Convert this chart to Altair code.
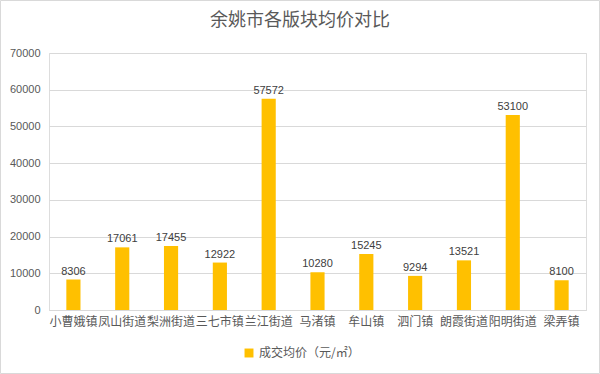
import altair as alt
import pandas as pd

categories = ["小曹娥镇", "凤山街道", "梨洲街道", "三七市镇", "兰江街道", "马渚镇", "牟山镇", "泗门镇", "朗霞街道", "阳明街道", "梁弄镇"]
values = [8306, 17061, 17455, 12922, 57572, 10280, 15245, 9294, 13521, 53100, 8100]
series_name = "成交均价（元/㎡）"
title_text = "余姚市各版块均价对比"
y_ticks = [0, 10000, 20000, 30000, 40000, 50000, 60000, 70000]

df = pd.DataFrame({"cat": categories, "val": values, "series": [series_name] * len(values)})

FONT = "Noto Sans CJK SC"
base = alt.Chart(df)

x = alt.X("cat:N", sort=categories, title=None,
          scale=alt.Scale(paddingInner=0.71, paddingOuter=0.355),
          axis=alt.Axis(labelAngle=0, labelFontSize=12, labelColor="#595959", labelFont=FONT,
                        ticks=False, domainColor="#d9d9d9", labelPadding=6, grid=False))
y = alt.Y("val:Q", title=None,
          scale=alt.Scale(domain=[0, 70000], nice=False),
          axis=alt.Axis(values=y_ticks, format="d", tickCount=8,
                        labelOverlap=False, labelFontSize=11, labelColor="#595959",
                        labelFont="Liberation Sans", ticks=False, domain=False, gridColor="#d9d9d9",
                        labelPadding=9))

bars = base.mark_bar(color="#FFC000").encode(
    x=x, y=y,
    color=alt.Color("series:N", scale=alt.Scale(range=["#FFC000"]),
                    legend=alt.Legend(title=None, orient="none", legendX=194, legendY=294,
                                      symbolType="square", symbolSize=80, labelFontSize=12,
                                      labelColor="#595959", labelFont=FONT)))
labels = base.mark_text(dy=-8, fontSize=11, color="#404040", font="Liberation Sans").encode(
    x=x, y=y, text="val:Q")

one = pd.DataFrame({"t": [title_text]})
title = alt.Chart(one).mark_text(fontSize=18, font=FONT, color="#595959", align="center",
                                 baseline="middle").encode(
    x=alt.value(251), y=alt.value(-32), text="t:N")

border = alt.Chart(one).mark_rect(
    fill=None, stroke="#d9d9d9", strokeWidth=1, clip=False
).encode(x=alt.value(-48.5), x2=alt.value(550.5), y=alt.value(-52.5), y2=alt.value(320.5))

chart = alt.layer(bars, labels, title, border).properties(
    width=537, height=257,
    autosize=alt.AutoSizeParams(type="none"),
    padding={"left": 49, "top": 53, "right": 14, "bottom": 64},
).configure_view(stroke=None).configure(background="white")

chart.save("out.html", embed_options={"renderer": "svg", "actions": False})
